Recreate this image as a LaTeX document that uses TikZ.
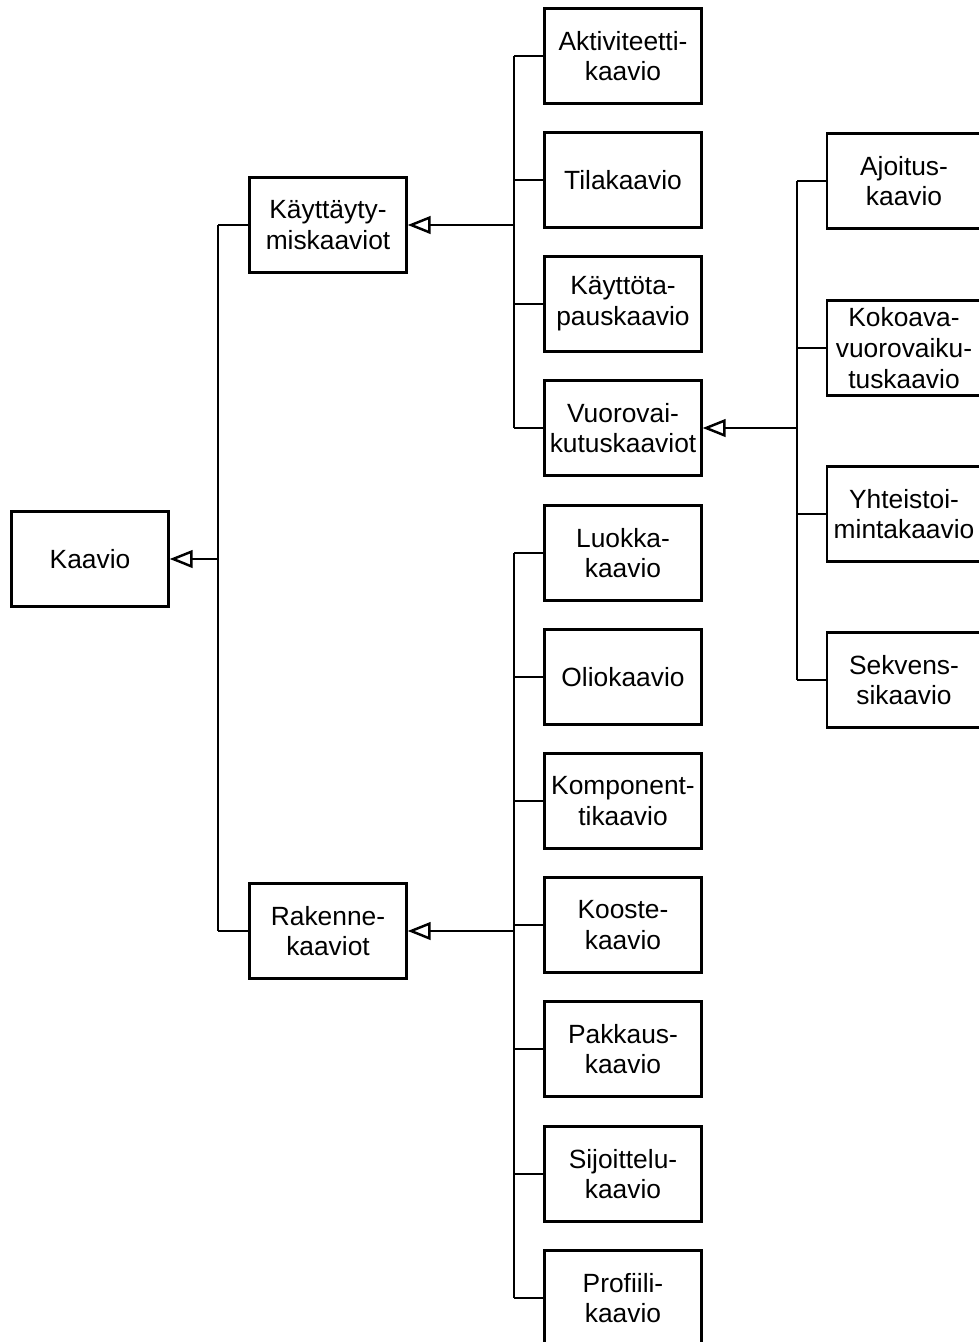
\documentclass[tikz,border=0pt]{standalone}
\usepackage{fontspec}
\setmainfont{Liberation Sans}
\usetikzlibrary{arrows.meta,positioning,calc}
\tikzset{umlbox/.style={draw=black,line width=1.4pt,fill=white,align=center,font=\fontsize{15}{17.5}\selectfont,minimum width=3.14cm,minimum height=1.9cm,inner sep=1pt},umlbranch/.style={line width=1.4pt,draw=black},umlgen/.style={-{Triangle[open,length=13pt,width=10pt,line width=1.4pt]},line width=1.4pt,draw=black}}
\begin{document}
\begin{tikzpicture}[x=0.02cm,y=-0.02cm]
\useasboundingbox (0,0) rectangle (979,1342);
\node[umlbox] (kaavio) at (90,559) {Kaavio};
\node[umlbox] (kayt) at (328,225) {Käyttäyty-\\miskaaviot};
\node[umlbox] (rak) at (328,931) {Rakenne-\\kaaviot};
\node[umlbox] (akt) at (623,56) {Aktiviteetti-\\kaavio};
\node[umlbox] (tila) at (623,180) {Tilakaavio};
\node[umlbox] (ktapa) at (623,304) {Käyttöta-\\pauskaavio};
\node[umlbox] (vuoro) at (623,428) {Vuorovai-\\kutuskaaviot};
\node[umlbox] (luokka) at (623,553) {Luokka-\\kaavio};
\node[umlbox] (olio) at (623,677) {Oliokaavio};
\node[umlbox] (komp) at (623,801) {Komponent-\\tikaavio};
\node[umlbox] (kooste) at (623,925) {Kooste-\\kaavio};
\node[umlbox] (pakkaus) at (623,1049) {Pakkaus-\\kaavio};
\node[umlbox] (sijoit) at (623,1174) {Sijoittelu-\\kaavio};
\node[umlbox] (profiili) at (623,1298) {Profiili-\\kaavio};
\node[umlbox,minimum width=3.08cm] (ajoitus) at (904,181) {Ajoitus-\\kaavio};
\node[umlbox,minimum width=3.08cm] (kokoava) at (904,348) {Kokoava-\\vuorovaiku-\\tuskaavio};
\node[umlbox,minimum width=3.08cm] (yhteis) at (904,514) {Yhteistoi-\\mintakaavio};
\node[umlbox,minimum width=3.08cm] (sekvens) at (904,680) {Sekvens-\\sikaavio};
% kaavio -> kaksi paaryhmaa
\coordinate (hubA) at (218,559);
\draw[umlbranch] (hubA |- kayt) -- (hubA |- rak);
\draw[umlbranch] (hubA |- kayt) -- (kayt.west);
\draw[umlbranch] (hubA |- rak) -- (rak.west);
\draw[umlgen] (hubA) -- (kaavio.east);
% kayttaytymiskaaviot
\coordinate (hubB) at (514,225);
\draw[umlbranch] (hubB |- akt) -- (hubB |- vuoro);
\draw[umlbranch] (hubB |- akt) -- (akt.west);
\draw[umlbranch] (hubB |- tila) -- (tila.west);
\draw[umlbranch] (hubB |- ktapa) -- (ktapa.west);
\draw[umlbranch] (hubB |- vuoro) -- (vuoro.west);
\draw[umlgen] (hubB) -- (kayt.east);
% rakennekaaviot
\coordinate (hubC) at (514,931);
\draw[umlbranch] (hubC |- luokka) -- (hubC |- profiili);
\draw[umlbranch] (hubC |- luokka) -- (luokka.west);
\draw[umlbranch] (hubC |- olio) -- (olio.west);
\draw[umlbranch] (hubC |- komp) -- (komp.west);
\draw[umlbranch] (hubC |- kooste) -- (kooste.west);
\draw[umlbranch] (hubC |- pakkaus) -- (pakkaus.west);
\draw[umlbranch] (hubC |- sijoit) -- (sijoit.west);
\draw[umlbranch] (hubC |- profiili) -- (profiili.west);
\draw[umlgen] (hubC) -- (rak.east);
% vuorovaikutuskaaviot
\coordinate (hubD) at (797,428);
\draw[umlbranch] (hubD |- ajoitus) -- (hubD |- sekvens);
\draw[umlbranch] (hubD |- ajoitus) -- (ajoitus.west);
\draw[umlbranch] (hubD |- kokoava) -- (kokoava.west);
\draw[umlbranch] (hubD |- yhteis) -- (yhteis.west);
\draw[umlbranch] (hubD |- sekvens) -- (sekvens.west);
\draw[umlgen] (hubD) -- (vuoro.east);
\end{tikzpicture}
\end{document}
